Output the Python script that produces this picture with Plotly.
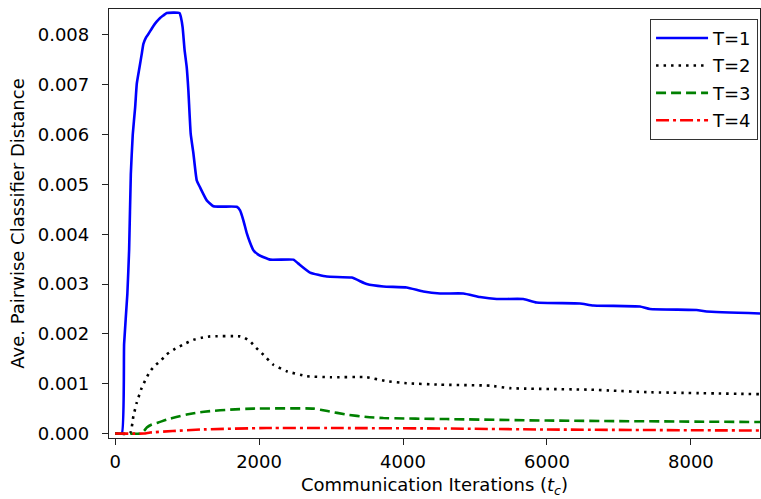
import plotly.graph_objects as go

# T=1
x1 = [0, 93, 125, 170, 195, 218, 245, 278, 301, 338, 370, 393, 430, 463, 532, 580, 625, 670, 718, 894, 915, 938, 965, 995, 1018, 1050, 1088, 1134, 1180, 1273, 1366, 1690, 1736, 1782, 1829, 1870, 1921, 2000, 2153, 2477, 2546, 2708, 2940, 3287, 3495, 3727, 4051, 4282, 4514, 4838, 5069, 5301, 5671, 5856, 6458, 6644, 7292, 7431, 8079, 8218, 8960]
y1 = [0, 0, 0.0018, 0.0028, 0.0037, 0.0052, 0.006, 0.00654, 0.00702, 0.00734, 0.00762, 0.00782, 0.00795, 0.00802, 0.00818, 0.00827, 0.00834, 0.00839, 0.00844, 0.00844, 0.00835, 0.00815, 0.0077, 0.00735, 0.00688, 0.00602, 0.00562, 0.00508, 0.00494, 0.00468, 0.00456, 0.00455, 0.00448, 0.00428, 0.00402, 0.00385, 0.00368, 0.00358, 0.00349, 0.00349, 0.00341, 0.00323, 0.00315, 0.00313, 0.003, 0.00295, 0.00293, 0.00285, 0.00281, 0.00281, 0.00274, 0.0027, 0.0027, 0.00263, 0.00261, 0.00257, 0.00255, 0.0025, 0.00248, 0.00245, 0.00241]

# T=2
x2 = [0, 208, 254, 301, 370, 430, 486, 550, 625, 710, 810, 950, 1088, 1200, 1319, 1736, 1800, 1875, 1960, 2060, 2199, 2384, 2662, 3000, 3495, 3773, 4051, 4514, 5208, 5486, 6597, 6921, 7384, 8960]
y2 = [0, 0, 0.00035, 0.00062, 0.00092, 0.0011, 0.00125, 0.00136, 0.00145, 0.00158, 0.00168, 0.00179, 0.00188, 0.00192, 0.00195, 0.00195, 0.00192, 0.00185, 0.00172, 0.00158, 0.00138, 0.00125, 0.00115, 0.00113, 0.00113, 0.00105, 0.00101, 0.00098, 0.00096, 0.00091, 0.00088, 0.00086, 0.00083, 0.00079]

# T=3
x3 = [0, 347, 400, 440, 509, 600, 718, 850, 995, 1150, 1319, 1600, 1921, 2755, 2950, 3218, 3500, 3727, 4606, 5995, 8960]
y3 = [0, 0, 0.00005, 0.00012, 0.00018, 0.00022, 0.00028, 0.00033, 0.00038, 0.00042, 0.00045, 0.00048, 0.0005, 0.0005, 0.00045, 0.00038, 0.00033, 0.00031, 0.00029, 0.00026, 0.00023]

# T=4
x4 = [0, 400, 486, 800, 1180, 2106, 3032, 4606, 6000, 8960]
y4 = [0, 0, 0.00002, 0.00005, 0.00008, 0.00011, 0.00011, 0.0001, 0.00008, 0.00006]

names = ["T=1", "T=2", "T=3", "T=4"]
x_ticks = [0, 2000, 4000, 6000, 8000]
y_ticks = [0.000, 0.001, 0.002, 0.003, 0.004, 0.005, 0.006, 0.007, 0.008]

FONT = "DejaVu Sans"
FS = 18
series = [
    (x1, y1, "#0000ff", "solid"),
    (x2, y2, "#000000", "2.5px,5px"),
    (x3, y3, "#008000", "10px,5px"),
    (x4, y4, "#ff0000", "13px,4px,3px,4px"),
]

fig = go.Figure()
for i, (xs, ys, c, d) in enumerate(series):
    fig.add_trace(go.Scatter(x=xs, y=ys, mode="lines", name=names[i],
                             legendgroup=names[i],
                             line=dict(color=c, width=2.6, dash=d,
                                       shape="spline", smoothing=0.4)))

fig.update_layout(
    width=761, height=499,
    margin=dict(l=109, r=1, t=9, b=61),
    paper_bgcolor="white", plot_bgcolor="white",
    font=dict(family=FONT, size=FS, color="black"),
    showlegend=True,
    legend=dict(x=0.997, y=0.977, xanchor="right", yanchor="top",
                bgcolor="rgba(255,255,255,0.8)", bordercolor="#333333",
                borderwidth=1, font=dict(family=FONT, size=FS),
                itemwidth=52,
                traceorder="grouped", tracegroupgap=1),
    xaxis=dict(range=[-85, 8960], tickvals=x_ticks,
               ticktext=[str(v) for v in x_ticks],
               showgrid=False, zeroline=False, showline=True, mirror=True,
               linecolor="#222222", linewidth=1.3, ticks="outside", ticklen=6,
               tickcolor="#222222", ticklabelstandoff=1,
               title=dict(text="Communication Iterations (<i>t</i><sub><i>c</i></sub>)",
                          font=dict(family=FONT, size=FS), standoff=7)),
    yaxis=dict(range=[-0.00009, 0.00852], tickvals=y_ticks,
               ticktext=["%.3f" % v for v in y_ticks],
               showgrid=False, zeroline=False, showline=True, mirror=True,
               linecolor="#222222", linewidth=1.3, ticks="outside", ticklen=6,
               tickcolor="#222222", ticklabelstandoff=9,
               title=dict(text="Ave. Pairwise Classifier Distance",
                          font=dict(family=FONT, size=FS), standoff=8)),
)

fig.write_html("out.html")
